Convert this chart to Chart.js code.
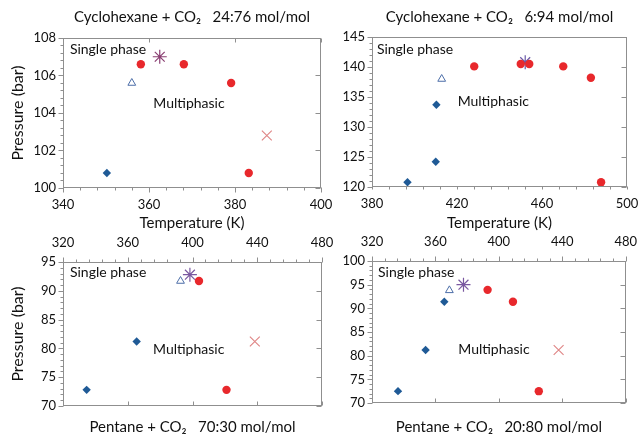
<!DOCTYPE html>
<html>
<head>
<meta charset="utf-8">
<script src="https://cdn.jsdelivr.net/npm/chart.js@4/dist/chart.umd.min.js"></script>
<style>
  html, body { margin: 0; padding: 0; background: #fff; }
  #wrap { position: relative; width: 643px; height: 437px; overflow: hidden; }
  canvas { position: absolute; }
</style>
</head>
<body>
<div id="wrap">
  <canvas id="c1" width="340" height="232" style="left:0;top:0"></canvas>
  <canvas id="c2" width="321" height="232" style="left:322px;top:0"></canvas>
  <canvas id="c3" width="340" height="212" style="left:0;top:225px"></canvas>
  <canvas id="c4" width="321" height="212" style="left:322px;top:225px"></canvas>
</div>
<script>
// Cyclohexane + CO2 24:76  [temperature K, pressure bar]
const cyc24Diamonds = [[350.2, 100.8]];
const cyc24Circles = [[358.1, 106.6], [368.1, 106.6], [379.1, 105.6], [383.2, 100.8]];
const cyc24Triangles = [[356.0, 105.6]];
const cyc24Stars = [[362.5, 107.0]];
const cyc24Crosses = [[387.4, 102.8]];

// Cyclohexane + CO2 6:94
const cyc6Diamonds = [[396.7, 120.8], [410.0, 124.2], [410.3, 133.7]];
const cyc6Circles = [[428.1, 140.1], [450.0, 140.5], [454.0, 140.5], [470.0, 140.1], [483.0, 138.2], [487.8, 120.8]];
const cyc6Triangles = [[412.8, 138.0]];
const cyc6Stars = [[452.1, 140.8]];
const cyc6Crosses = [];

// Pentane + CO2 70:30
const pen70Diamonds = [[334.6, 72.8], [365.5, 81.2]];
const pen70Circles = [[404.0, 91.7], [421.0, 72.8]];
const pen70Triangles = [[392.6, 91.7]];
const pen70Stars = [[398.4, 92.8]];
const pen70Crosses = [[438.5, 81.2]];

// Pentane + CO2 20:80
const pen20Diamonds = [[336.4, 72.5], [353.8, 81.2], [365.6, 91.4]];
const pen20Circles = [[392.9, 93.9], [408.9, 91.4], [425.2, 72.5]];
const pen20Triangles = [[368.8, 93.8]];
const pen20Stars = [[377.7, 95.0]];
const pen20Crosses = [[437.7, 81.2]];

const FONT = 'Lato, "Noto Sans", sans-serif';
const toXY = arr => arr.map(([x, y]) => ({x, y}));

function isMajor(v, step) {
  return Math.abs(v / step - Math.round(v / step)) < 1e-6;
}

// box around the plot + major/minor tick marks (Excel look)
const frameTicks = {
  id: 'frameTicks',
  afterDraw(chart, args, o) {
    const {ctx, chartArea: a, scales: {x, y}} = chart;
    const L = Math.round(a.left) + 0.5, R = Math.round(a.right) - 0.5;
    const T = Math.round(a.top) + 0.5, B = Math.round(a.bottom) - 0.5;
    ctx.save();
    ctx.strokeStyle = '#8f8f8f';
    ctx.lineWidth = 1;
    ctx.strokeRect(L, T, R - L, B - T);
    ctx.beginPath();
    const xTop = x.options.position === 'top';
    const ax = xTop ? T : B, opp = xTop ? B : T, dir = xTop ? -1 : 1;
    for (let v = x.min; v <= x.max + 1e-9; v += o.xMinor) {
      const px = Math.round(x.getPixelForValue(v)) + 0.5;
      const major = isMajor(v, o.xMajor);
      ctx.moveTo(px, ax);
      ctx.lineTo(px, ax + dir * (major ? 5 : 3));
      if (major) { ctx.moveTo(px, opp); ctx.lineTo(px, opp + dir * 4); }
    }
    for (let v = y.min; v <= y.max + 1e-9; v += o.yMinor) {
      const py = Math.round(y.getPixelForValue(v)) + 0.5;
      const major = isMajor(v, o.yMajor);
      ctx.moveTo(L, py);
      ctx.lineTo(L - (major ? 5 : 3), py);
      if (major) { ctx.moveTo(R, py); ctx.lineTo(R - 5, py); }
    }
    ctx.stroke();
    // region labels
    ctx.fillStyle = '#111';
    ctx.font = '14px ' + FONT;
    ctx.textAlign = 'left';
    ctx.textBaseline = 'middle';
    o.notes.forEach(n => {
      ctx.fillText(n.text, x.getPixelForValue(n.x), y.getPixelForValue(n.y));
    });
    ctx.restore();
  }
};

function datasets(d, c, t, s, k, starColor) {
  return [
    {data: toXY(c), pointStyle: 'circle', pointRadius: 4.2, backgroundColor: '#e8282c', borderColor: '#e8282c', borderWidth: 0},
    {data: toXY(d), pointStyle: 'rectRot', pointRadius: 4.2, backgroundColor: '#1f5a96', borderColor: '#1f5a96', borderWidth: 0},
    {data: toXY(t), pointStyle: 'triangle', pointRadius: 4.5, backgroundColor: 'rgba(0,0,0,0)', borderColor: '#4c6ea8', borderWidth: 1},
    {data: toXY(s), pointStyle: 'star', pointRadius: 7, backgroundColor: starColor, borderColor: starColor, borderWidth: 1.2},
    {data: toXY(k), pointStyle: 'crossRot', pointRadius: 7, backgroundColor: '#df8585', borderColor: '#df8585', borderWidth: 1.1}
  ];
}

function makeChart(id, cfg) {
  const bottom = cfg.xPos === 'top';
  new Chart(document.getElementById(id), {
    type: 'scatter',
    data: {datasets: cfg.sets},
    plugins: [frameTicks],
    options: {
      responsive: false,
      animation: false,
      events: [],
      layout: {padding: {left: 0, right: cfg.padRight, top: 0, bottom: 0}},
      plugins: {
        legend: {display: false},
        tooltip: {enabled: false},
        title: {
          display: true,
          fullSize: false,
          text: cfg.title,
          position: bottom ? 'bottom' : 'top',
          color: '#111',
          font: {family: FONT, size: 15, weight: 'normal'},
          padding: cfg.titlePad
        },
        frameTicks: {xMajor: cfg.xStep, xMinor: cfg.xMinor, yMajor: cfg.yStep, yMinor: cfg.yMinor, notes: cfg.notes}
      },
      scales: {
        x: {
          type: 'linear', position: cfg.xPos, min: cfg.xMin, max: cfg.xMax,
          grid: {display: false, drawTicks: true, tickLength: 5},
          border: {display: false},
          ticks: {stepSize: cfg.xStep, color: '#111', font: {family: FONT, size: 13}, padding: bottom ? 6 : 4, maxRotation: 0},
          title: {display: !!cfg.xTitle, text: cfg.xTitle, color: '#111', font: {family: FONT, size: 15}, padding: 0},
          afterFit: s => { s.height = cfg.xH; }
        },
        y: {
          type: 'linear', min: cfg.yMin, max: cfg.yMax,
          grid: {display: false, drawTicks: true, tickLength: 5},
          border: {display: false},
          ticks: {stepSize: cfg.yStep, color: '#111', font: {family: FONT, size: 13}, padding: 2},
          title: {display: !!cfg.yTitle, text: cfg.yTitle, color: '#111', font: {family: FONT, size: 16}, padding: {top: 8, bottom: 0}},
          afterFit: s => { s.width = cfg.yW; }
        }
      }
    }
  });
}

makeChart('c1', {
  title: 'Cyclohexane + CO\u2082   24:76 mol/mol',
  titlePad: {top: 8, bottom: 12},
  sets: datasets(cyc24Diamonds, cyc24Circles, cyc24Triangles, cyc24Stars, cyc24Crosses, '#8a3f72'),
  xPos: 'bottom', xMin: 340, xMax: 400, xStep: 20, xMinor: 4, xTitle: 'Temperature (K)', xH: 44,
  yMin: 100, yMax: 108, yStep: 2, yMinor: 0.4, yTitle: 'Pressure (bar)', yW: 63,
  padRight: 19,
  notes: [{text: 'Single phase', x: 341.6, y: 107.4}, {text: 'Multiphasic', x: 361, y: 104.5}]
});

makeChart('c2', {
  title: 'Cyclohexane + CO\u2082   6:94 mol/mol',
  titlePad: {top: 8, bottom: 11},
  sets: datasets(cyc6Diamonds, cyc6Circles, cyc6Triangles, cyc6Stars, cyc6Crosses, '#6a5aa8'),
  xPos: 'bottom', xMin: 380, xMax: 500, xStep: 40, xMinor: 8, xTitle: 'Temperature (K)', xH: 45,
  yMin: 120, yMax: 145, yStep: 5, yMinor: 1, yTitle: '', yW: 50,
  padRight: 16,
  notes: [{text: 'Single phase', x: 382.3, y: 143}, {text: 'Multiphasic', x: 420.3, y: 134.2}]
});

makeChart('c3', {
  title: 'Pentane + CO\u2082   70:30 mol/mol',
  titlePad: {top: 12, bottom: 1},
  sets: datasets(pen70Diamonds, pen70Circles, pen70Triangles, pen70Stars, pen70Crosses, '#7a58a0'),
  xPos: 'top', xMin: 320, xMax: 480, xStep: 40, xMinor: 8, xTitle: '', xH: 37,
  yMin: 70, yMax: 95, yStep: 5, yMinor: 1, yTitle: 'Pressure (bar)', yW: 63,
  padRight: 18,
  notes: [{text: 'Single phase', x: 324.3, y: 93.2}, {text: 'Multiphasic', x: 375.6, y: 79.8}]
});

makeChart('c4', {
  title: 'Pentane + CO\u2082   20:80 mol/mol',
  titlePad: {top: 15, bottom: 1},
  sets: datasets(pen20Diamonds, pen20Circles, pen20Triangles, pen20Stars, pen20Crosses, '#7a58a0'),
  xPos: 'top', xMin: 320, xMax: 480, xStep: 40, xMinor: 8, xTitle: '', xH: 36,
  yMin: 70, yMax: 100, yStep: 5, yMinor: 1, yTitle: '', yW: 50,
  padRight: 17,
  notes: [{text: 'Single phase', x: 323.8, y: 97.6}, {text: 'Multiphasic', x: 374.4, y: 81.3}]
});
</script>
</body>
</html>
